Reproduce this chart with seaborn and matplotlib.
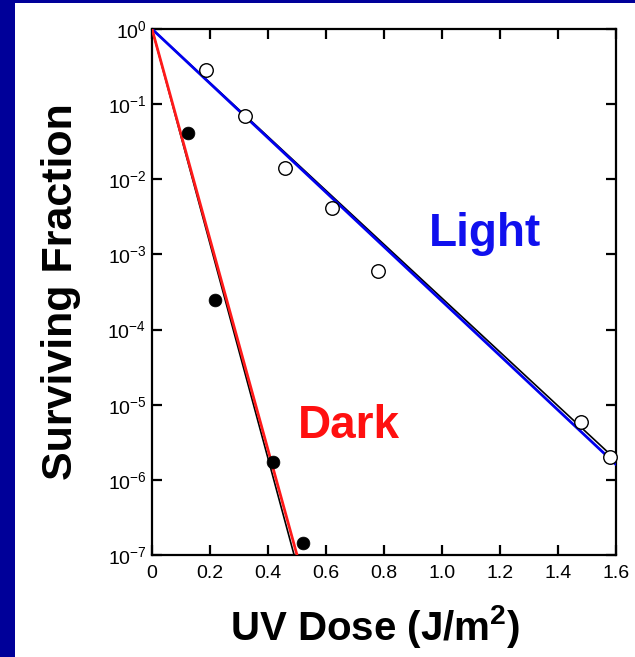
import matplotlib
matplotlib.use("Agg")
import matplotlib.pyplot as plt
import seaborn as sns
from matplotlib.patches import Rectangle

# ---- data ----
light_dose = [0.185, 0.32, 0.46, 0.62, 0.78, 1.48, 1.58]
light_surv = [0.284, 0.070, 0.0141, 0.0042, 6.0e-4, 5.8e-6, 2.0e-6]
dark_dose = [0.125, 0.217, 0.417, 0.522]
dark_surv = [0.0417, 2.47e-4, 1.73e-6, 1.43e-7]

light_fit_x = [0.0, 1.6]
light_fit_y = [1.0, 1.6e-6]
light_fit_black_y = [1.0, 1.85e-6]
dark_fit_x = [0.0, 0.50]
dark_fit_black_x = [0.0, 0.49]
dark_fit_y = [1.0, 1.0e-7]

x_ticks = [0, 0.2, 0.4, 0.6, 0.8, 1.0, 1.2, 1.4, 1.6]
x_tick_labels = ["0", "0.2", "0.4", "0.6", "0.8", "1.0", "1.2", "1.4", "1.6"]
y_exps = [0, -1, -2, -3, -4, -5, -6, -7]

sns.set_style("ticks")
plt.rcParams["font.family"] = ["Liberation Sans", "DejaVu Sans"]
plt.rcParams["mathtext.fontset"] = "custom"
plt.rcParams["mathtext.rm"] = "Liberation Sans"
plt.rcParams["mathtext.it"] = "Liberation Sans:italic"
plt.rcParams["mathtext.bf"] = "Liberation Sans:bold"

fig = plt.figure(figsize=(6.35, 6.57), dpi=100)
fig.patch.set_facecolor("white")
navy = "#000099"
fig.patches.append(Rectangle((0, 0), 15 / 635, 1, transform=fig.transFigure,
                             facecolor=navy, edgecolor="none", zorder=0))
fig.patches.append(Rectangle((0, 1 - 3 / 657), 1, 3 / 657, transform=fig.transFigure,
                             facecolor=navy, edgecolor="none", zorder=0))

ax = fig.add_axes([152 / 635, 1 - 555 / 657, (616 - 152) / 635, (555 - 29) / 657])
ax.set_yscale("log")

# fit lines
sns.lineplot(x=light_fit_x, y=light_fit_black_y, ax=ax, color="black", lw=1.2, zorder=2)
sns.lineplot(x=light_fit_x, y=light_fit_y, ax=ax, color="#0000ee", lw=2.0, zorder=3)
sns.lineplot(x=dark_fit_black_x, y=dark_fit_y, ax=ax, color="black", lw=1.2, zorder=2)
sns.lineplot(x=dark_fit_x, y=dark_fit_y, ax=ax, color="#ff1a1a", lw=2.0, zorder=3)

# data points
sns.scatterplot(x=light_dose, y=light_surv, ax=ax, s=95, facecolor="white",
                edgecolor="black", linewidth=1.0, zorder=4, clip_on=False)
sns.scatterplot(x=dark_dose, y=dark_surv, ax=ax, s=85, color="black",
                edgecolor="black", linewidth=0.5, zorder=4, clip_on=False)

ax.set_xlim(0, 1.6)
ax.set_ylim(1e-7, 1)
ax.set_xticks(x_ticks)
ax.set_xticklabels(x_tick_labels, fontsize=14)
ax.set_yticks([10.0 ** e for e in y_exps])
ax.set_yticklabels([r"$10^{%d}$" % e for e in y_exps], fontsize=14)
ax.minorticks_off()
ax.tick_params(which="major", direction="in", length=7.5, width=1.6,
               top=True, right=True, colors="black")
ax.tick_params(axis="x", pad=7)
ax.tick_params(axis="y", pad=4)
for s in ax.spines.values():
    s.set_linewidth(1.6)
    s.set_color("black")

ax.set_xlabel(r"UV Dose (J/m$^{\mathbf{2}}$)", fontsize=29, fontweight="bold",
              color="black")
ax.xaxis.set_label_coords(0.48, -0.091, transform=ax.transAxes)
ax.xaxis.label.set_va("top")
ax.set_ylabel("Surviving Fraction", fontsize=31, fontweight="bold", labelpad=19,
              color="black")

ax.text(1.15, 10 ** (-(246 - 29) / 75.14), "Light", color="#1010ee", fontsize=33,
        fontweight="bold", ha="center", va="baseline")
ax.text(0.68, 10 ** (-(438 - 29) / 75.14), "Dark", color="#ff1010", fontsize=33,
        fontweight="bold", ha="center", va="baseline")

fig.savefig("out.png", dpi=100)
